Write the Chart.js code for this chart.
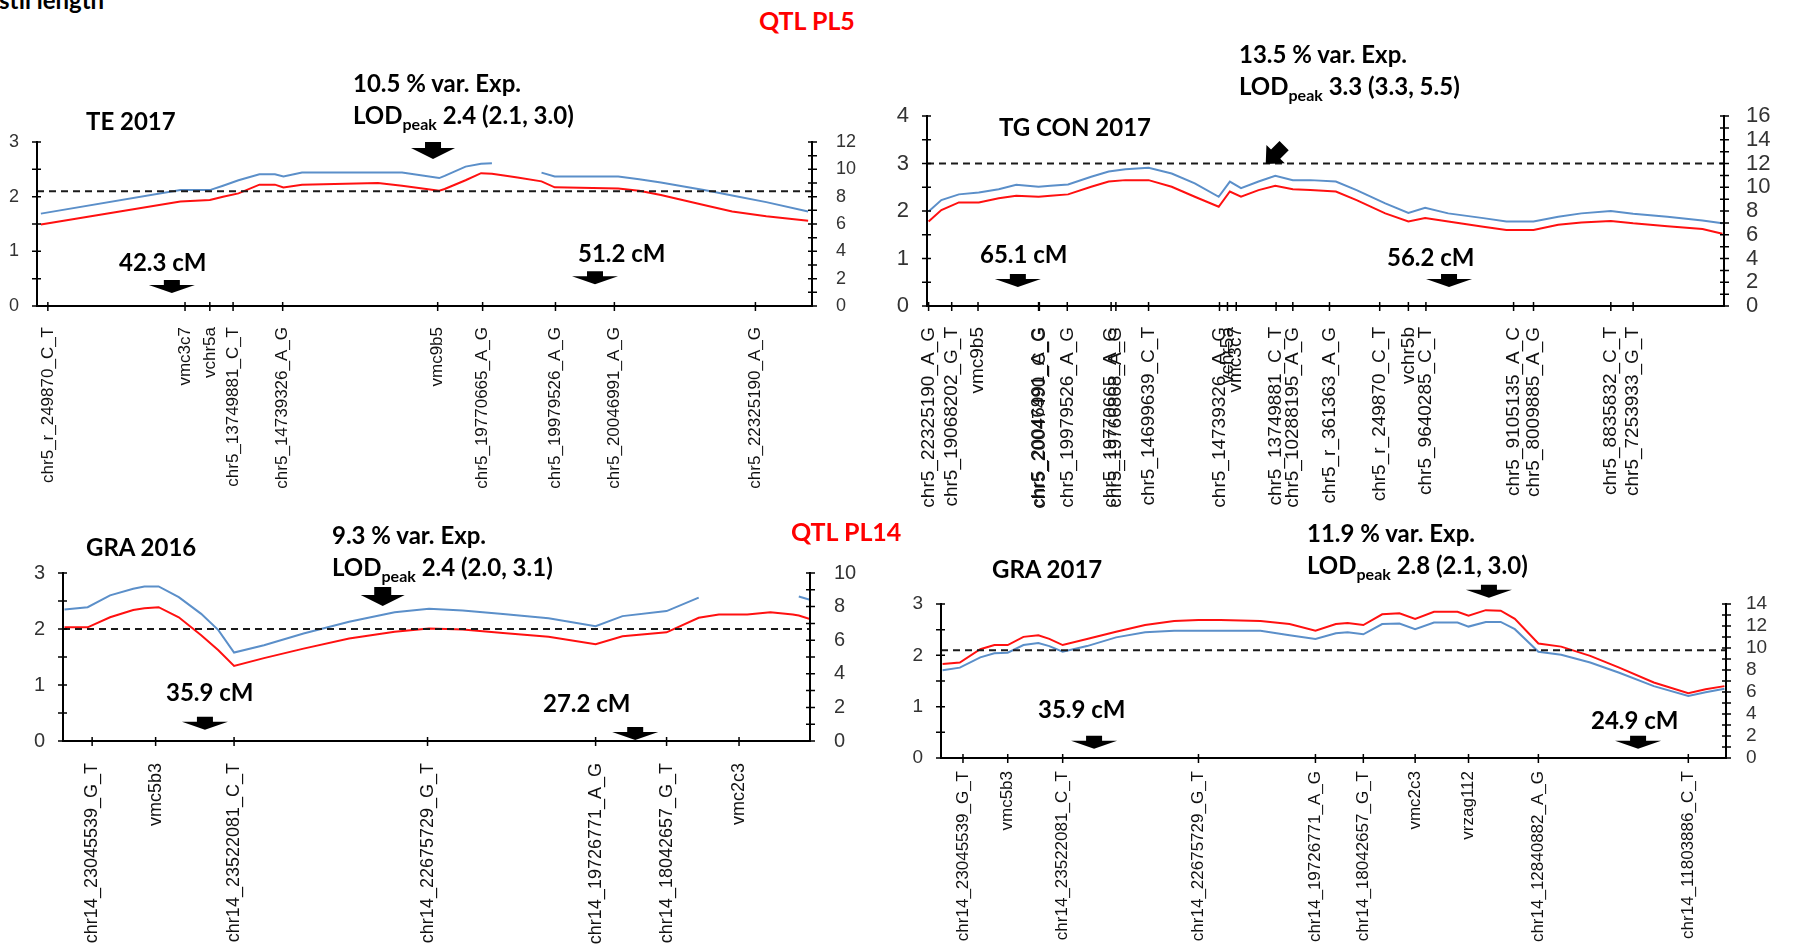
<!DOCTYPE html>
<html>
<head>
<meta charset="utf-8">
<title>QTL PL5 / PL14 – pistil length</title>
<script src="https://cdn.jsdelivr.net/npm/chart.js@4.4.1/dist/chart.umd.min.js"></script>
<style>
  html, body { margin: 0; padding: 0; background: #fff; }
  body { width: 1796px; height: 946px; position: relative; overflow: hidden; font-family: Lato, "Open Sans", sans-serif; }
  canvas { position: absolute; }
  .t { position: absolute; white-space: nowrap; font-weight: 700; font-size: 24px; color: #000; line-height: 1; transform: translateY(-50%); }
  .t sub { font-size: 16px; vertical-align: -6px; line-height: 0; }
  .red { color: #ff0000; font-size: 25px; }
</style>
</head>
<body>
<script>
// ---------- TE 2017 (chromosome 5) ----------
const teMarkerNames = ['chr5_r_249870_C_T', 'vmc3c7', 'vchr5a', 'chr5_13749881_C_T', 'chr5_14739326_A_G',
  'vmc9b5', 'chr5_19770665_A_G', 'chr5_19979526_A_G', 'chr5_20046991_A_G', 'chr5_22325190_A_G'];
const teMarkerPos = [1.4, 19.1, 22.3, 25.3, 31.7, 51.7, 57.5, 66.9, 74.5, 92.7];
const tePos  = [0.5, 18.5, 22.3, 24.0, 26.0, 28.7, 30.7, 31.8, 34.2, 44.0, 47.1, 51.9, 52.6, 55.3, 57.3, 58.7, 60.7, 62.0, 65.1, 66.8, 75.0, 77.7, 80.5, 86.6, 89.7, 94.1, 99.5];
const teRed  = [1.49, 1.91, 1.94, 2.00, 2.06, 2.22, 2.22, 2.17, 2.22, 2.25, 2.20, 2.11, 2.14, 2.30, 2.43, 2.42, 2.38, 2.35, 2.28, 2.17, 2.15, 2.11, 2.03, 1.83, 1.73, 1.64, 1.56];
const teBlue = [1.69, 2.12, 2.12, 2.20, 2.30, 2.41, 2.41, 2.37, 2.44, 2.44, 2.44, 2.34, 2.38, 2.55, 2.60, 2.61, null, null, 2.44, 2.37, 2.37, 2.32, 2.26, 2.11, 2.02, 1.90, 1.73];

// ---------- TG CON 2017 (chromosome 5) ----------
const tgMarkerNames = ['chr5_22325190_A_G', 'chr5_19068202_G_T', 'vmc9b5', 'chr5_20046991_A_G', 'chr5_20047490_C_G',
  'chr5_19979526_A_G', 'chr5_19770665_A_G', 'chr5_19766868_A_G', 'chr5_14699639_C_T', 'chr5_14739326_A_G',
  'vchr5a', 'vmc3c7', 'chr5_13749881_C_T', 'chr5_10288195_A_G', 'chr5_r_361363_A_G', 'chr5_r_249870_C_T',
  'vchr5b', 'chr5_9640285_C_T', 'chr5_9105135_A_C', 'chr5_8009885_A_G', 'chr5_8835832_C_T', 'chr5_7253933_G_T'];
const tgMarkerPos = [0.2, 3.1, 6.4, 14.0, 14.1, 17.6, 23.1, 23.7, 27.8, 36.7, 37.7, 38.8, 43.8, 45.9, 50.5, 56.8, 60.4, 62.6, 73.6, 76.1, 85.8, 88.6];
const tgPos  = [0.2, 1.8, 4.0, 6.5, 9.0, 11.2, 14.0, 15.5, 17.7, 20.6, 22.8, 24.9, 27.8, 30.7, 33.6, 36.6, 38.0, 39.4, 41.6, 43.7, 45.9, 48.1, 51.3, 53.9, 57.5, 60.4, 62.5, 65.4, 69.8, 72.7, 76.1, 79.2, 82.1, 85.8, 88.6, 92.9, 97.3, 99.8];
const tgBlue = [1.99, 2.23, 2.35, 2.39, 2.46, 2.55, 2.51, 2.53, 2.56, 2.72, 2.83, 2.88, 2.91, 2.79, 2.58, 2.30, 2.62, 2.48, 2.62, 2.74, 2.65, 2.65, 2.62, 2.44, 2.16, 1.96, 2.07, 1.95, 1.85, 1.78, 1.78, 1.88, 1.95, 2.00, 1.94, 1.88, 1.80, 1.74];
const tgRed  = [1.78, 2.02, 2.18, 2.18, 2.27, 2.32, 2.30, 2.32, 2.35, 2.51, 2.62, 2.65, 2.65, 2.51, 2.30, 2.09, 2.41, 2.30, 2.44, 2.53, 2.46, 2.44, 2.41, 2.23, 1.95, 1.78, 1.85, 1.78, 1.67, 1.60, 1.60, 1.71, 1.76, 1.79, 1.74, 1.68, 1.62, 1.52];

// ---------- GRA 2016 (chromosome 14) ----------
const g16MarkerNames = ['chr14_23045539_G_T', 'vmc5b3', 'chr14_23522081_C_T', 'chr14_22675729_G_T', 'chr14_19726771_A_G', 'chr14_18042657_G_T', 'vmc2c3'];
const g16MarkerPos = [3.9, 12.4, 22.9, 48.8, 71.3, 80.8, 90.5];
const g16Pos  = [0.2, 3.3, 6.3, 9.4, 10.9, 12.8, 15.5, 18.5, 20.8, 22.9, 26.9, 32.2, 38.3, 44.4, 49.0, 53.5, 58.9, 65.0, 71.3, 74.9, 80.8, 85.1, 87.8, 91.6, 94.7, 97.7, 98.5, 100];
const g16Blue = [2.35, 2.39, 2.60, 2.72, 2.76, 2.76, 2.57, 2.27, 1.98, 1.58, 1.71, 1.92, 2.13, 2.30, 2.36, 2.33, 2.27, 2.19, 2.05, 2.23, 2.32, 2.56, null, null, null, null, 2.58, 2.52];
const g16Red  = [2.03, 2.03, 2.21, 2.34, 2.37, 2.39, 2.21, 1.89, 1.62, 1.34, 1.48, 1.65, 1.83, 1.95, 2.01, 1.99, 1.93, 1.86, 1.73, 1.87, 1.94, 2.20, 2.26, 2.26, 2.30, 2.26, 2.24, 2.18];

// ---------- GRA 2017 (chromosome 14) ----------
const g17MarkerNames = ['chr14_23045539_G_T', 'vmc5b3', 'chr14_23522081_C_T', 'chr14_22675729_G_T', 'chr14_19726771_A_G',
  'chr14_18042657_G_T', 'vmc2c3', 'vrzag112', 'chr14_12840882_A_G', 'chr14_11803886_C_T'];
const g17MarkerPos = [2.8, 8.5, 15.5, 32.8, 47.7, 53.8, 60.4, 67.2, 76.1, 95.2];
const g17Pos  = [0.2, 2.4, 5.0, 6.8, 8.5, 10.5, 12.4, 13.8, 15.5, 18.6, 22.3, 26.0, 29.7, 32.8, 35.6, 40.7, 44.4, 47.7, 50.3, 51.8, 53.8, 56.2, 58.4, 60.4, 62.8, 65.8, 67.2, 69.4, 71.3, 73.1, 76.1, 79.0, 82.7, 86.4, 90.8, 95.2, 97.4, 99.8];
const g17Red  = [1.83, 1.86, 2.12, 2.20, 2.20, 2.36, 2.39, 2.32, 2.20, 2.32, 2.46, 2.59, 2.67, 2.69, 2.69, 2.67, 2.61, 2.48, 2.61, 2.63, 2.59, 2.80, 2.82, 2.71, 2.85, 2.85, 2.77, 2.88, 2.87, 2.71, 2.23, 2.17, 1.99, 1.76, 1.47, 1.26, 1.34, 1.40];
const g17Blue = [1.71, 1.76, 1.96, 2.04, 2.05, 2.20, 2.24, 2.18, 2.07, 2.18, 2.35, 2.45, 2.48, 2.48, 2.48, 2.48, 2.39, 2.32, 2.43, 2.45, 2.41, 2.61, 2.62, 2.51, 2.64, 2.64, 2.56, 2.65, 2.65, 2.51, 2.07, 2.01, 1.86, 1.66, 1.40, 1.21, 1.28, 1.35];

// LOD significance thresholds and axis ranges
const thresholds = [2.1, 3.0, 2.0, 2.1];
const lodMax = [3, 4, 3, 3];
const rightMax = [12, 16, 10, 14];

// Arrow markers: position (x) and tip height (LOD)
const teArrows  = [{ x: 51.1, y: 2.69, w: 44, h: 17, sw: 16, sh: 6 }, { x: 17.4, y: 0.24 }, { x: 72.0, y: 0.40 }];
const tgArrows  = [{ x: 42.5, y: 2.99, w: 26, h: 26, sw: 13, sh: 12, rot: Math.PI / 4 }, { x: 11.4, y: 0.40 }, { x: 65.5, y: 0.40 }];
const g16Arrows = [{ x: 42.8, y: 2.41, w: 44, h: 19, sw: 17, sh: 8 }, { x: 19.0, y: 0.20 }, { x: 76.6, y: 0.02 }];
const g17Arrows = [{ x: 69.8, y: 3.12, w: 46, h: 13, sw: 16, sh: 5 }, { x: 19.5, y: 0.18 }, { x: 88.8, y: 0.18 }];

// Axis lines with ticks crossing them
const crossAxes = {
  id: 'crossAxes',
  afterDatasetsDraw(chart) {
    const { ctx, chartArea: a, scales } = chart;
    ctx.save();
    ctx.strokeStyle = '#000';
    ctx.lineWidth = 2;
    ctx.beginPath();
    ctx.moveTo(a.left, a.top - 1); ctx.lineTo(a.left, a.bottom);
    ctx.lineTo(a.right, a.bottom); ctx.lineTo(a.right, a.top - 1);
    ctx.stroke();
    ctx.lineWidth = 1.5;
    ctx.beginPath();
    scales.y.ticks.forEach(t => { const p = scales.y.getPixelForValue(t.value); ctx.moveTo(a.left - 5, p); ctx.lineTo(a.left + 4, p); });
    scales.y2.ticks.forEach(t => { const p = scales.y2.getPixelForValue(t.value); ctx.moveTo(a.right - 4, p); ctx.lineTo(a.right + 5, p); });
    scales.x.ticks.forEach(t => { const p = scales.x.getPixelForValue(t.value); ctx.moveTo(p, a.bottom - 4); ctx.lineTo(p, a.bottom + 5); });
    ctx.stroke();
    ctx.restore();
  }
};

// Block arrows pointing at a position
const blockArrows = {
  id: 'blockArrows',
  afterDraw(chart, args, opts) {
    const { ctx, scales } = chart;
    ctx.save();
    ctx.fillStyle = '#000';
    (opts.items || []).forEach(it => {
      const w = it.w || 46, h = it.h || 13, sw = it.sw || 16, sh = it.sh || 5;
      const px = scales.x.getPixelForValue(it.x);
      const py = scales.y.getPixelForValue(it.y);
      ctx.save();
      ctx.translate(px, py);
      ctx.rotate(it.rot || 0);
      ctx.beginPath();
      ctx.moveTo(-sw / 2, -h);
      ctx.lineTo(sw / 2, -h);
      ctx.lineTo(sw / 2, -h + sh);
      ctx.lineTo(w / 2, -h + sh);
      ctx.lineTo(0, 0);
      ctx.lineTo(-w / 2, -h + sh);
      ctx.lineTo(-sw / 2, -h + sh);
      ctx.closePath();
      ctx.fill();
      ctx.restore();
    });
    ctx.restore();
  }
};

function buildPanel(p) {
  const a = p.area;
  const padL = 6, padR = 6, padT = 50, padB = 4, wl = 34, wr = 54, hx = 236;
  const box = { left: a.left - padL - wl, top: a.top - padT };
  box.width = (a.right + wr + padR) - box.left;
  box.height = (a.bottom + hx + padB) - box.top;
  const cv = document.createElement('canvas');
  Object.assign(cv.style, { left: box.left + 'px', top: box.top + 'px', width: box.width + 'px', height: box.height + 'px' });
  cv.width = box.width; cv.height = box.height;
  document.body.appendChild(cv);

  const tickFont = { family: '"Liberation Sans", Arial, sans-serif', size: p.tickSize };
  new Chart(cv, {
    type: 'line',
    data: {
      datasets: [
        { label: 'threshold', data: [{ x: 0, y: p.thr }, { x: 100, y: p.thr }], borderColor: '#1a1a1a', borderWidth: 2, borderDash: [7, 5], pointRadius: 0 },
        { label: 'blue', data: p.pos.map((x, i) => ({ x, y: p.blue[i] })), borderColor: '#5b8fc9', borderWidth: 2, pointRadius: 0, spanGaps: false },
        { label: 'red', data: p.pos.map((x, i) => ({ x, y: p.red[i] })), borderColor: '#ff1010', borderWidth: 2, pointRadius: 0, spanGaps: false }
      ]
    },
    options: {
      responsive: false, animation: false, devicePixelRatio: 1,
      layout: { padding: { left: padL, right: padR, top: padT, bottom: padB } },
      elements: { line: { tension: 0 } },
      plugins: { legend: { display: false }, tooltip: { enabled: false }, blockArrows: { items: p.arrows } },
      scales: {
        x: {
          type: 'linear', min: 0, max: 100,
          afterBuildTicks: s => { s.ticks = p.markerPos.map(v => ({ value: v })); },
          afterFit: s => { s.height = hx; },
          grid: { display: false }, border: { display: false },
          ticks: { autoSkip: false, minRotation: 90, maxRotation: 90, padding: p.labelPad, color: '#111',
            font: { family: '"Liberation Sans", Arial, sans-serif', size: p.labelSize },
            callback: (v, i) => p.markerNames[i] }
        },
        y: {
          position: 'left', min: 0, max: p.lodMax,
          afterFit: s => { s.width = wl; },
          grid: { display: false }, border: { display: false },
          ticks: { stepSize: 0.5, autoSkip: false, padding: 10, color: '#333', font: tickFont,
            callback: v => Number.isInteger(v) ? String(v) : '' }
        },
        y2: {
          position: 'right', min: 0, max: p.rightMax,
          afterFit: s => { s.width = wr; },
          grid: { display: false }, border: { display: false },
          ticks: { stepSize: 1, autoSkip: false, padding: p.rightPad, color: '#333', font: tickFont,
            callback: v => v % 2 === 0 ? String(v) : '' }
        }
      }
    },
    plugins: [crossAxes, blockArrows]
  });
}

buildPanel({ area: { left: 37, top: 142, right: 812, bottom: 306 }, thr: thresholds[0], lodMax: lodMax[0], rightMax: rightMax[0],
  pos: tePos, red: teRed, blue: teBlue, markerNames: teMarkerNames, markerPos: teMarkerPos, arrows: teArrows,
  tickSize: 18, labelSize: 17, labelPad: 13, rightPad: 16 });
buildPanel({ area: { left: 927, top: 116, right: 1724, bottom: 306 }, thr: thresholds[1], lodMax: lodMax[1], rightMax: rightMax[1],
  pos: tgPos, red: tgRed, blue: tgBlue, markerNames: tgMarkerNames, markerPos: tgMarkerPos, arrows: tgArrows,
  tickSize: 22, labelSize: 19, labelPad: 13, rightPad: 14 });
buildPanel({ area: { left: 63, top: 573, right: 810, bottom: 741 }, thr: thresholds[2], lodMax: lodMax[2], rightMax: rightMax[2],
  pos: g16Pos, red: g16Red, blue: g16Blue, markerNames: g16MarkerNames, markerPos: g16MarkerPos, arrows: g16Arrows,
  tickSize: 20, labelSize: 18, labelPad: 14, rightPad: 16 });
buildPanel({ area: { left: 941, top: 604, right: 1726, bottom: 758 }, thr: thresholds[3], lodMax: lodMax[3], rightMax: rightMax[3],
  pos: g17Pos, red: g17Red, blue: g17Blue, markerNames: g17MarkerNames, markerPos: g17MarkerPos, arrows: g17Arrows,
  tickSize: 19, labelSize: 17, labelPad: 5, rightPad: 12 });

// Titles and annotations
const notes = [
  { x: -22, y: 0, html: 'Pistil length', size: 24 },
  { x: 759, y: 20, html: 'QTL PL5', cls: 'red' },
  { x: 86, y: 121, html: 'TE 2017' },
  { x: 353, y: 83, html: '10.5 % var. Exp.' },
  { x: 353, y: 115, html: 'LOD<sub>peak</sub> 2.4 (2.1, 3.0)' },
  { x: 119, y: 262, html: '42.3 cM' },
  { x: 578, y: 253, html: '51.2 cM' },
  { x: 1239, y: 54, html: '13.5 % var. Exp.' },
  { x: 1239, y: 86, html: 'LOD<sub>peak</sub> 3.3 (3.3, 5.5)' },
  { x: 999, y: 127, html: 'TG CON 2017' },
  { x: 980, y: 254, html: '65.1 cM' },
  { x: 1387, y: 257, html: '56.2 cM' },
  { x: 791, y: 531, html: 'QTL PL14', cls: 'red' },
  { x: 86, y: 547, html: 'GRA 2016' },
  { x: 332, y: 535, html: '9.3 % var. Exp.' },
  { x: 332, y: 567, html: 'LOD<sub>peak</sub> 2.4 (2.0, 3.1)' },
  { x: 166, y: 692, html: '35.9 cM' },
  { x: 543, y: 703, html: '27.2 cM' },
  { x: 992, y: 569, html: 'GRA 2017' },
  { x: 1307, y: 533, html: '11.9 % var. Exp.' },
  { x: 1307, y: 565, html: 'LOD<sub>peak</sub> 2.8 (2.1, 3.0)' },
  { x: 1038, y: 709, html: '35.9 cM' },
  { x: 1591, y: 720, html: '24.9 cM' }
];
notes.forEach(n => {
  const d = document.createElement('div');
  d.className = 't' + (n.cls ? ' ' + n.cls : '');
  d.style.left = n.x + 'px';
  d.style.top = n.y + 'px';
  if (n.size) d.style.fontSize = n.size + 'px';
  d.innerHTML = n.html;
  document.body.appendChild(d);
});
</script>
</body>
</html>
